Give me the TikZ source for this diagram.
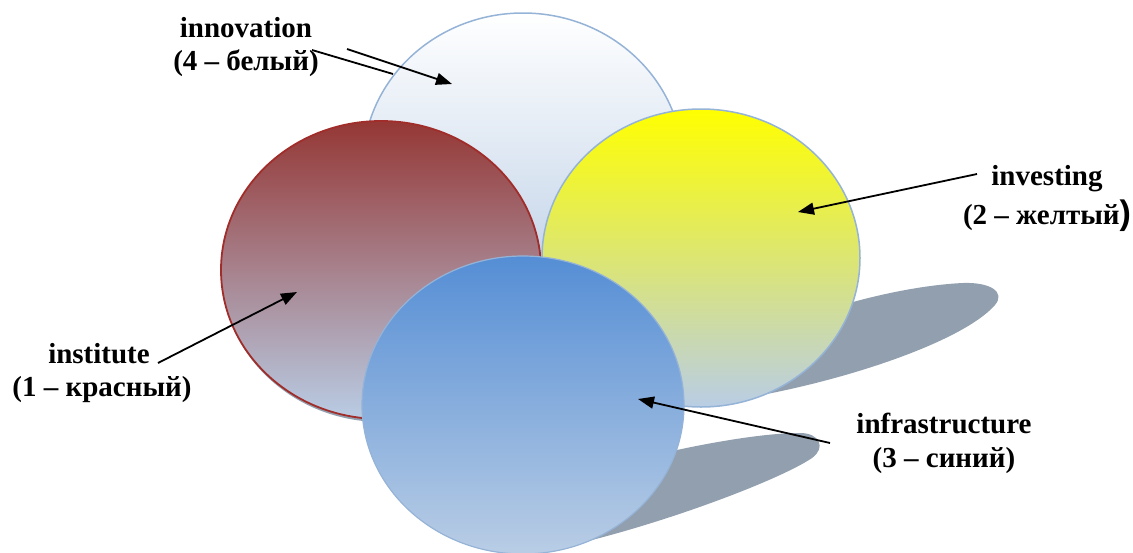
\documentclass[tikz,border=0pt]{standalone}
\usepackage{fontspec}
\setmainfont{Liberation Serif}
\setsansfont{Liberation Sans}
\usetikzlibrary{arrows.meta}
\definecolor{shadowc}{RGB}{145,159,174}
\definecolor{paleblue}{RGB}{185,205,229}
\definecolor{edgeblue}{RGB}{149,179,215}
\definecolor{darkred}{RGB}{149,55,53}
\definecolor{redline}{RGB}{160,45,42}
\definecolor{midblue}{RGB}{85,142,213}
\definecolor{midyellow}{RGB}{236,238,115}
\begin{document}
\begin{tikzpicture}[x={(1pt,0pt)},y={(0pt,-1pt)},
  lab/.style={font=\bfseries\fontsize{29}{33}\selectfont, inner sep=0pt, anchor=base},
  plainline/.style={line width=1.8pt},
  conn/.style={line width=1.8pt, -{Triangle[length=16pt,width=12pt]}},
  shadowshape/.style={fill=shadowc, draw=none}]
\useasboundingbox (0,0) rectangle (1133,552);
% cast shadows
\path[shadowshape] (705,404) .. controls (820,390) and (960,345) .. (995,305)
  .. controls (1006,292) and (990,282) .. (963,283)
  .. controls (920,285) and (875,296) .. (853,302)
  .. controls (800,318) and (720,360) .. (705,404) -- cycle;
\path[shadowshape] (540,552) .. controls (650,530) and (780,480) .. (812,458)
  .. controls (826,448) and (820,433) .. (800,433)
  .. controls (760,433) and (700,445) .. (677,450)
  -- (560,500) -- cycle;
% white (innovation)
\draw[draw=edgeblue, line width=1.5pt, top color=white, bottom color=paleblue] (523,165) ellipse [x radius=160pt, y radius=152pt];
% red (institute)
\fill[shadowc] (382,273) ellipse [x radius=160pt, y radius=149pt];
\draw[draw=redline, line width=1.8pt, top color=darkred, bottom color=paleblue] (381,270) ellipse [x radius=160pt, y radius=149pt];
% yellow (investing)
\draw[draw=edgeblue, line width=1.5pt, top color=yellow, middle color=midyellow, bottom color=paleblue] (701,258) ellipse [x radius=159pt, y radius=149pt];
% blue (infrastructure)
\draw[draw=edgeblue, line width=1.2pt, top color=midblue, bottom color=paleblue] (523,405) ellipse [x radius=161pt, y radius=149pt];
% labels
\node[lab] (innov1) at (246,37) {innovation};
\node[lab] (innov2) at (246,70) {(4 – белый)};
\node[lab] (inv1) at (1047,185) {investing};
\node[lab] (inv2) at (1047,224) {(2 – желтый{\sffamily\fontsize{34}{34}\selectfont)}};
\node[lab] (inst1) at (99,363) {institute};
\node[lab] (inst2) at (102,396) {(1 – красный)};
\node[lab] (infra1) at (944,433) {infrastructure};
\node[lab] (infra2) at (944,467) {(3 – синий)};
% connector ends
\coordinate (innovS1) at (312,50);
\coordinate (innovE1) at (393,74);
\coordinate (innovS2) at (347,49);
\coordinate (innovT) at (452,84);
\coordinate (invS) at (977,174);
\coordinate (invT) at (798,212);
\coordinate (instS) at (158,363);
\coordinate (instT) at (297,292);
\coordinate (infraS) at (830,443);
\coordinate (infraT) at (638,399);
% connectors
\draw[plainline] (innovS1) -- (innovE1);
\draw[conn] (innovS2) -- (innovT);
\draw[conn] (invS) -- (invT);
\draw[conn] (instS) -- (instT);
\draw[conn] (infraS) -- (infraT);
\end{tikzpicture}
\end{document}
